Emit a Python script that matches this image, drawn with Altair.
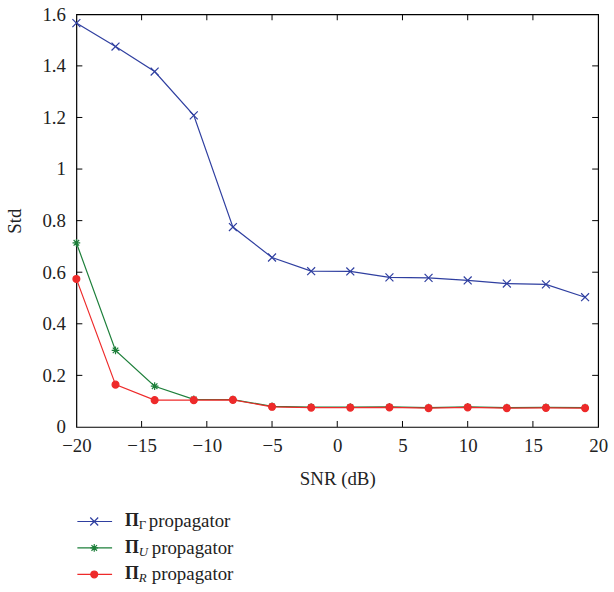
import altair as alt
import pandas as pd

# ---- data ----
snr = [-20, -17, -14, -11, -8, -5, -2, 1, 4, 7, 10, 13, 16, 19]
std_gamma = [1.566, 1.475, 1.378, 1.208, 0.775, 0.657, 0.604, 0.603, 0.580, 0.578, 0.568, 0.556, 0.553, 0.503]
std_u = [0.714, 0.297, 0.158, 0.107, 0.106, 0.080, 0.077, 0.077, 0.078, 0.075, 0.078, 0.075, 0.076, 0.075]
std_r = [0.574, 0.164, 0.104, 0.104, 0.105, 0.078, 0.075, 0.075, 0.076, 0.073, 0.076, 0.073, 0.074, 0.073]
series_keys = ["G", "U", "R"]
series_subs = ["Γ", "U", "R"]
x_tick_values = [-20, -15, -10, -5, 0, 5, 10, 15, 20]
y_tick_values = [0, 0.2, 0.4, 0.6, 0.8, 1.0, 1.2, 1.4, 1.6]

# ---- styles ----
W, H = 526, 416
FONT = "Liberation Serif"
colors = ["#2f3fa0", "#1d7f3a", "#ee2a2a"]
fills = ["transparent", "transparent", "#ee2a2a"]
x_path = "M-1,-1L1,1M-1,1L1,-1"
star_path = "M-1,0L1,0M0,-1L0,1M-0.72,-0.72L0.72,0.72M-0.72,0.72L0.72,-0.72"
shapes = [x_path, star_path, "circle"]
sizes = [64, 60, 48]

rows = []
for key, vals in zip(series_keys, [std_gamma, std_u, std_r]):
    for s, v in zip(snr, vals):
        rows.append({"series": key, "snr": s, "std": v})
df = pd.DataFrame(rows)

xscale = alt.Scale(domain=[-20, 20], nice=False, zero=False)
yscale = alt.Scale(domain=[0, 1.6], nice=False)

xaxis = alt.Axis(values=x_tick_values, ticks=False, domain=False, grid=False,
                 labelFlush=False,
                 labelExpr="replace(datum.label, '-', '−')",
                 labelFont=FONT, labelFontSize=19, labelColor="#222",
                 labelPadding=10, title="SNR (dB)", titleFont=FONT,
                 titleFontSize=19, titleFontWeight="normal", titleColor="#222",
                 titlePadding=14)
yaxis = alt.Axis(values=y_tick_values, ticks=False, domain=False, grid=False,
                 labelFlush=False,
                 format="~g", labelFont=FONT, labelFontSize=19, labelColor="#222",
                 labelPadding=11, title="Std", titleFont=FONT, titleFontSize=19,
                 titleFontWeight="normal", titleColor="#222", titlePadding=18)

base = alt.Chart(df)
layers = []
# axes carrier (invisible)
layers.append(base.mark_point(opacity=0).encode(
    x=alt.X("snr:Q", scale=xscale, axis=xaxis),
    y=alt.Y("std:Q", scale=yscale, axis=yaxis)))

# inward ticks
xt = pd.DataFrame({"t": x_tick_values[1:-1]})
yt = pd.DataFrame({"t": y_tick_values[1:-1]})
tick_style = dict(color="black", strokeWidth=1)
for y0, y1 in [(H, H - 6), (0, 6)]:
    layers.append(alt.Chart(xt).mark_rule(**tick_style).encode(
        x=alt.X("t:Q", scale=xscale), y=alt.value(y0), y2=alt.value(y1)))
for x0, x1 in [(0, 6), (W, W - 6)]:
    layers.append(alt.Chart(yt).mark_rule(**tick_style).encode(
        y=alt.Y("t:Q", scale=yscale), x=alt.value(x0), x2=alt.value(x1)))

for i, key in enumerate(series_keys):
    sub = base.transform_filter(alt.datum.series == key)
    layers.append(sub.mark_line(color=colors[i], strokeWidth=1.2).encode(
        x=alt.X("snr:Q", scale=xscale), y=alt.Y("std:Q", scale=yscale)))
for i, key in enumerate(series_keys):
    sub = base.transform_filter(alt.datum.series == key)
    layers.append(sub.mark_point(shape=shapes[i], size=sizes[i], stroke=colors[i],
                                 fill=fills[i], strokeWidth=1.2, opacity=1,
                                 filled=False).encode(
        x=alt.X("snr:Q", scale=xscale), y=alt.Y("std:Q", scale=yscale)))

main = alt.layer(*layers).properties(
    width=W, height=H, view=alt.ViewBackground(stroke="black", strokeWidth=1.2))

# ---- manual legend panel ----
leg_df = pd.DataFrame({"series": series_keys, "sub": series_subs})
lscale = alt.Scale(type="point", domain=series_keys, padding=0.5)
ly = alt.Y("series:N", scale=lscale, axis=None)
lbase = alt.Chart(leg_df)
leg_layers = []
for i, key in enumerate(series_keys):
    one = lbase.transform_filter(alt.datum.series == key)
    leg_layers.append(one.mark_rule(color=colors[i], strokeWidth=1.2).encode(
        y=ly, x=alt.value(1), x2=alt.value(36)))
    leg_layers.append(one.mark_point(shape=shapes[i], size=sizes[i], stroke=colors[i],
                                     fill=fills[i], strokeWidth=1.2, opacity=1,
                                     filled=False).encode(y=ly, x=alt.value(18)))
    leg_layers.append(one.mark_text(text="Π", font=FONT, fontSize=18, fontWeight="bold",
                                    align="left", baseline="middle", color="#222").encode(
        y=ly, x=alt.value(49)))
    leg_layers.append(one.mark_text(font=FONT, fontSize=13,
                                    fontStyle="normal" if key == "G" else "italic",
                                    align="left", baseline="middle", dy=4, color="#222").encode(
        y=ly, x=alt.value(63), text="sub:N"))
    leg_layers.append(one.mark_text(text="propagator", font=FONT, fontSize=19,
                                    align="left", baseline="middle", color="#222").encode(
        y=ly, x=alt.value(73 if key == "G" else 76)))

legend = alt.layer(*leg_layers).properties(
    width=260, height=80, view=alt.ViewBackground(stroke="transparent"))

chart = alt.vconcat(main, legend, spacing=82, bounds="flush").properties(
    padding={"left": 4, "top": 2, "right": 5, "bottom": 5},
).configure(background="white")

chart.save("out.html", embed_options={"renderer": "svg", "actions": False})
